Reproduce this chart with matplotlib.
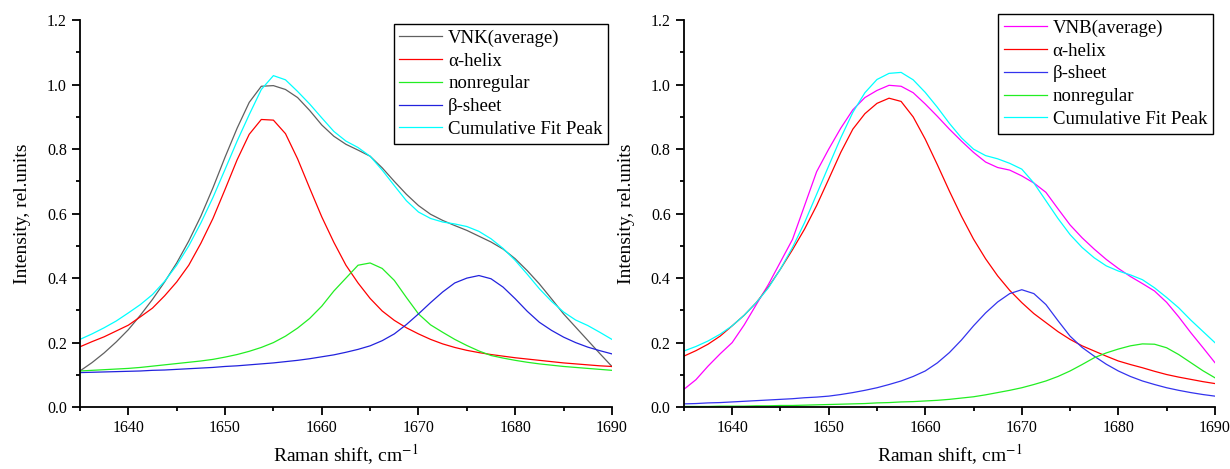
import numpy as np
import matplotlib
matplotlib.use('Agg')
import matplotlib.pyplot as plt
from matplotlib.ticker import MultipleLocator, FormatStrFormatter

plt.rcParams['font.family'] = ['Liberation Serif', 'DejaVu Serif']
plt.rcParams['mathtext.fontset'] = 'stix'

# Raman shift grid (cm-1), 1635 .. 1690
shift = np.linspace(1635, 1690, 45)

# left panel: VNK
vnk_avg = [0.112, 0.138, 0.168, 0.202, 0.240, 0.285, 0.334, 0.388, 0.447, 0.515, 0.592, 0.680,
           0.775, 0.865, 0.945, 0.995, 0.997, 0.985, 0.960, 0.920, 0.875, 0.840, 0.815, 0.797,
           0.778, 0.742, 0.700, 0.660, 0.625, 0.598, 0.579, 0.563, 0.548, 0.530, 0.512, 0.490,
           0.460, 0.423, 0.382, 0.336, 0.289, 0.248, 0.207, 0.166, 0.126]
vnk_alpha = [0.187, 0.203, 0.218, 0.236, 0.254, 0.280, 0.307, 0.345, 0.388, 0.440, 0.508, 0.585,
             0.675, 0.767, 0.846, 0.892, 0.890, 0.848, 0.770, 0.679, 0.590, 0.511, 0.440, 0.385,
             0.337, 0.298, 0.269, 0.246, 0.227, 0.210, 0.196, 0.185, 0.176, 0.169, 0.163, 0.158,
             0.153, 0.149, 0.145, 0.141, 0.137, 0.134, 0.131, 0.128, 0.126]
vnk_nonreg = [0.112, 0.114, 0.116, 0.118, 0.120, 0.123, 0.127, 0.131, 0.135, 0.139, 0.143, 0.148,
              0.155, 0.163, 0.173, 0.185, 0.200, 0.220, 0.245, 0.275, 0.313, 0.360, 0.400, 0.440,
              0.447, 0.430, 0.393, 0.340, 0.289, 0.255, 0.232, 0.210, 0.191, 0.174, 0.160, 0.152,
              0.145, 0.139, 0.134, 0.130, 0.126, 0.123, 0.120, 0.117, 0.114]
vnk_beta = [0.107, 0.108, 0.109, 0.110, 0.111, 0.112, 0.114, 0.115, 0.117, 0.119, 0.121, 0.123,
            0.126, 0.128, 0.131, 0.134, 0.137, 0.141, 0.145, 0.150, 0.156, 0.162, 0.170, 0.179,
            0.190, 0.206, 0.227, 0.256, 0.289, 0.324, 0.357, 0.385, 0.400, 0.408, 0.398, 0.372,
            0.336, 0.297, 0.263, 0.238, 0.217, 0.200, 0.186, 0.175, 0.165]
vnk_fit = [0.210, 0.227, 0.246, 0.267, 0.292, 0.318, 0.349, 0.390, 0.440, 0.500, 0.571, 0.650,
           0.737, 0.825, 0.907, 0.985, 1.028, 1.015, 0.979, 0.940, 0.897, 0.855, 0.825, 0.805,
           0.778, 0.735, 0.687, 0.640, 0.605, 0.585, 0.574, 0.568, 0.560, 0.545, 0.522, 0.492,
           0.455, 0.412, 0.367, 0.328, 0.295, 0.270, 0.253, 0.232, 0.210]

# right panel: VNB
vnb_avg = [0.055, 0.085, 0.127, 0.165, 0.200, 0.255, 0.318, 0.380, 0.450, 0.520, 0.625, 0.730,
           0.800, 0.865, 0.922, 0.960, 0.982, 0.998, 0.995, 0.975, 0.940, 0.902, 0.862, 0.825,
           0.790, 0.760, 0.743, 0.735, 0.717, 0.695, 0.666, 0.615, 0.565, 0.525, 0.490, 0.458,
           0.430, 0.405, 0.383, 0.360, 0.325, 0.280, 0.231, 0.185, 0.138]
vnb_alpha = [0.158, 0.175, 0.195, 0.220, 0.252, 0.285, 0.324, 0.372, 0.428, 0.488, 0.552, 0.625,
             0.707, 0.790, 0.862, 0.910, 0.942, 0.958, 0.948, 0.900, 0.831, 0.752, 0.670, 0.592,
             0.521, 0.460, 0.407, 0.362, 0.324, 0.290, 0.262, 0.234, 0.210, 0.190, 0.174, 0.158,
             0.143, 0.132, 0.122, 0.111, 0.101, 0.093, 0.086, 0.079, 0.073]
vnb_beta = [0.010, 0.011, 0.013, 0.014, 0.016, 0.018, 0.020, 0.022, 0.024, 0.026, 0.029, 0.031,
            0.034, 0.039, 0.045, 0.052, 0.060, 0.070, 0.081, 0.095, 0.112, 0.137, 0.169, 0.208,
            0.252, 0.292, 0.326, 0.352, 0.364, 0.352, 0.318, 0.268, 0.220, 0.185, 0.158, 0.133,
            0.112, 0.095, 0.081, 0.070, 0.060, 0.052, 0.045, 0.039, 0.034]
vnb_nonreg = [0.002, 0.002, 0.002, 0.003, 0.003, 0.003, 0.004, 0.004, 0.005, 0.005, 0.006, 0.007,
              0.008, 0.009, 0.010, 0.011, 0.013, 0.014, 0.016, 0.017, 0.019, 0.021, 0.024, 0.028,
              0.032, 0.038, 0.045, 0.052, 0.060, 0.070, 0.081, 0.095, 0.112, 0.132, 0.153, 0.168,
              0.180, 0.190, 0.196, 0.195, 0.184, 0.163, 0.138, 0.113, 0.091]
vnb_fit = [0.174, 0.188, 0.205, 0.226, 0.252, 0.285, 0.324, 0.370, 0.428, 0.495, 0.572, 0.660,
           0.748, 0.835, 0.914, 0.975, 1.016, 1.035, 1.038, 1.015, 0.976, 0.930, 0.880, 0.835,
           0.800, 0.780, 0.770, 0.756, 0.738, 0.695, 0.640, 0.585, 0.535, 0.495, 0.463, 0.438,
           0.422, 0.410, 0.395, 0.370, 0.340, 0.308, 0.270, 0.235, 0.200]

fig = plt.figure(figsize=(12.3, 4.69), dpi=100)
ax1 = fig.add_axes([0.065, 0.132, 0.4325, 0.825])
ax2 = fig.add_axes([0.556, 0.132, 0.4317, 0.825])

lw = 0.9
ax1.plot(shift, vnk_avg, color='#606060', lw=lw, label='VNK(average)')
ax1.plot(shift, vnk_alpha, color='red', lw=lw, label='α-helix')
ax1.plot(shift, vnk_nonreg, color='#22ee22', lw=lw, label='nonregular')
ax1.plot(shift, vnk_beta, color='#2222dd', lw=lw, label='β-sheet')
ax1.plot(shift, vnk_fit, color='cyan', lw=lw, label='Cumulative Fit Peak')

ax2.plot(shift, vnb_avg, color='magenta', lw=lw, label='VNB(average)')
ax2.plot(shift, vnb_alpha, color='red', lw=lw, label='α-helix')
ax2.plot(shift, vnb_beta, color='#3333ee', lw=lw, label='β-sheet')
ax2.plot(shift, vnb_nonreg, color='#22ee22', lw=lw, label='nonregular')
ax2.plot(shift, vnb_fit, color='cyan', lw=lw, label='Cumulative Fit Peak')

anchors = [(0.993, 0.99), (0.996, 1.016)]
for ax, anc in zip([ax1, ax2], anchors):
    ax.set_xlim(1635, 1690)
    ax.set_ylim(0, 1.2)
    ax.xaxis.set_major_locator(MultipleLocator(10))
    ax.xaxis.set_minor_locator(MultipleLocator(5))
    ax.yaxis.set_major_locator(MultipleLocator(0.2))
    ax.yaxis.set_minor_locator(MultipleLocator(0.1))
    ax.yaxis.set_major_formatter(FormatStrFormatter('%.1f'))
    ax.spines['top'].set_visible(False)
    ax.spines['right'].set_visible(False)
    ax.spines['left'].set_linewidth(1.3)
    ax.spines['bottom'].set_linewidth(1.3)
    ax.tick_params(which='major', direction='out', length=6, width=1.3, labelsize=11.5)
    ax.tick_params(which='minor', direction='out', length=3, width=1.3)
    ax.set_xlabel('Raman shift, cm$^{-1}$', fontsize=14)
    ax.set_ylabel('Intensity, rel.units', fontsize=14)
    ax.xaxis.set_label_coords(0.5, -0.092)
    ax.yaxis.set_label_coords(-0.092, 0.5)
    leg = ax.legend(loc='upper right', bbox_to_anchor=anc, fontsize=13.5, fancybox=False,
                    edgecolor='black', framealpha=1, handlelength=2.3, labelspacing=0.3,
                    borderpad=0.3, handletextpad=0.3, borderaxespad=0)
    leg.get_frame().set_linewidth(1.0)

fig.savefig('out.png', dpi=100)
